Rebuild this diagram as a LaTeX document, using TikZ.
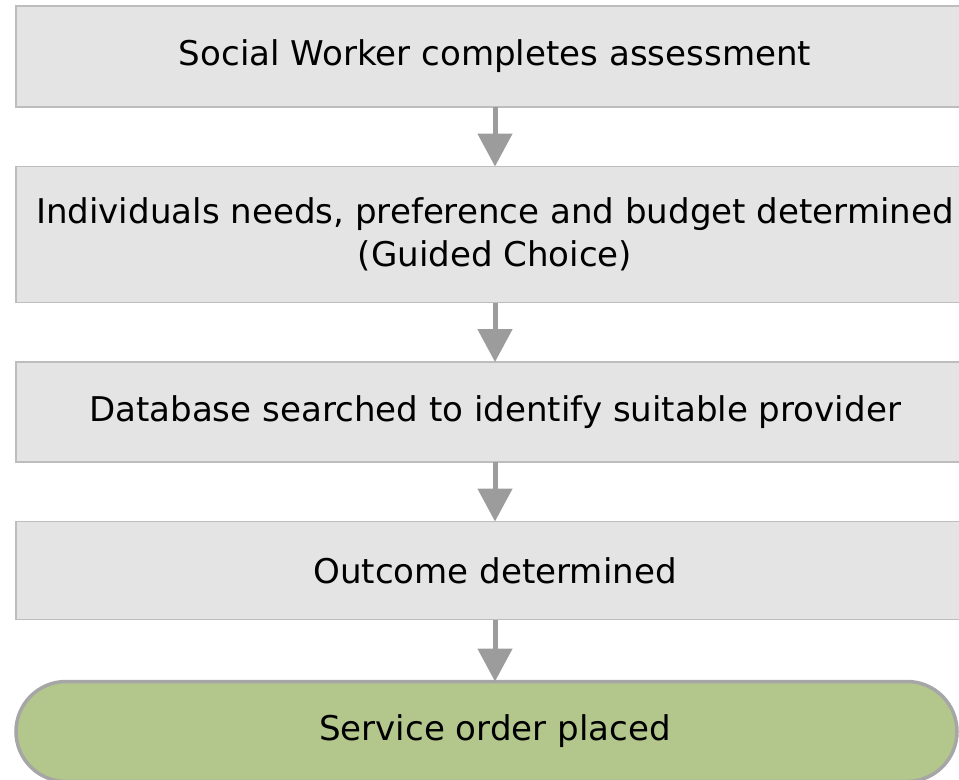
\documentclass[tikz,border=0pt]{standalone}
\usepackage{fontspec}
\setmainfont{DejaVu Sans}
\usetikzlibrary{positioning,arrows.meta}
\definecolor{boxfill}{HTML}{E4E4E4}
\definecolor{boxline}{HTML}{BDBDBD}
\definecolor{endfill}{HTML}{B3C68C}
\definecolor{endline}{HTML}{A6A6A6}
\definecolor{flowarrow}{HTML}{9C9C9C}
\begin{document}
\begin{tikzpicture}[
                        x=1bp, y=1bp,
                        node distance=59.5bp,
                        >={Triangle[width=34bp,length=33bp]},
                        stage/.style={rectangle, draw=boxline, line width=1.5bp, fill=boxfill, outer sep=0pt,
                            minimum width=958bp, minimum height=100bp, align=center,
                            font=\fontsize{34.2}{43}\selectfont},
                        outcome/.style={rectangle, rounded corners=50bp, draw=endline, line width=3.5bp,
                            fill=endfill, outer sep=0pt, minimum width=941bp, minimum height=100bp,
                            font=\fontsize{34.2}{43}\selectfont},
                        flow/.style={->, draw=flowarrow, line width=5bp}
                    ]
                    \useasboundingbox (0,0) rectangle (959,-780);
                    \clip (0,0) rectangle (959,-780);
                    % Blocks
                    \node [stage, minimum height=101bp] (assess) at (495,-56.5) {Social Worker completes assessment};
                    \node [stage, minimum height=136bp, below=of assess] (needs) {Individuals needs, preference and budget determined\\(Guided Choice)};
                    \node [stage, below=of needs] (search) {Database searched to identify suitable provider};
                    \node [stage, minimum height=98bp, below=of search] (result) {Outcome determined};
                    \node [outcome, below=62bp of result, xshift=-8.5bp] (order) {\hspace*{17bp}Service order placed};

                    % Connections
                    \draw [flow] (assess) -- (needs);
                    \draw [flow] (needs) -- (search);
                    \draw [flow] (search) -- (result);
                    \draw [flow] (result) -- (order.north -| result.south);
                \end{tikzpicture}
\end{document}
